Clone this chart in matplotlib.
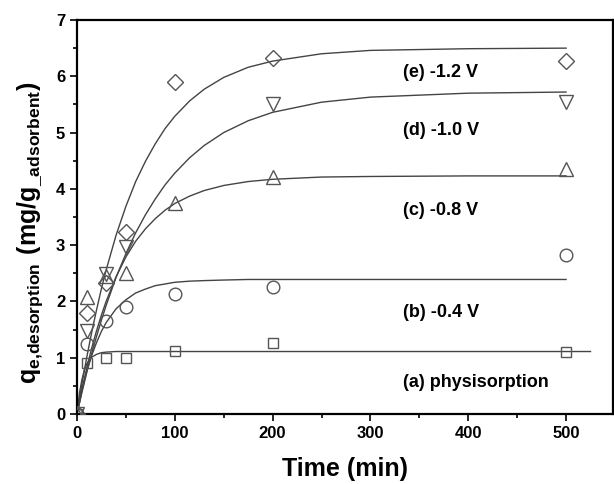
import matplotlib
matplotlib.use("Agg")
import matplotlib.pyplot as plt
from matplotlib.ticker import MultipleLocator

plt.rcParams['font.family'] = ['Liberation Sans', 'DejaVu Sans']
plt.rcParams['font.weight'] = 'bold'
plt.rcParams['mathtext.fontset'] = 'custom'
plt.rcParams['mathtext.rm'] = 'Liberation Sans'
plt.rcParams['mathtext.bf'] = 'Liberation Sans:bold'

# meetpunten (tijd in min, q in mg/g)
t_a = [0, 10, 30, 50, 100, 200, 500]
q_a = [0, 0.90, 0.99, 1.00, 1.12, 1.27, 1.10]
t_b = [0, 10, 30, 50, 100, 200, 500]
q_b = [0, 1.25, 1.65, 1.90, 2.14, 2.25, 2.82]
t_c = [0, 10, 30, 50, 100, 200, 500]
q_c = [0, 2.08, 2.45, 2.51, 3.75, 4.21, 4.36]
t_d = [0, 10, 30, 50, 200, 500]
q_d = [0, 1.47, 2.48, 2.97, 5.50, 5.55]
t_e = [0, 10, 30, 50, 100, 200, 500]
q_e = [0, 1.79, 2.32, 3.24, 5.90, 6.32, 6.27]

# fit-lijnen
fit_t = [0, 5, 10, 15, 20, 25, 30, 40, 50, 60, 70, 80, 90, 100, 115, 130, 150, 175, 200, 250, 300, 400, 500]
fit_b = [0, 0.41, 0.76, 1.04, 1.27, 1.47, 1.63, 1.87, 2.03, 2.15, 2.22, 2.28, 2.31, 2.34, 2.36, 2.37,
         2.38, 2.39, 2.39, 2.39, 2.39, 2.39, 2.39]
fit_c = [0, 0.43, 0.82, 1.17, 1.48, 1.76, 2.01, 2.44, 2.79, 3.07, 3.29, 3.47, 3.62, 3.74, 3.87, 3.97,
         4.06, 4.13, 4.17, 4.21, 4.22, 4.23, 4.23]
fit_d = [0, 0.38, 0.74, 1.07, 1.38, 1.67, 1.94, 2.43, 2.85, 3.22, 3.54, 3.82, 4.07, 4.28, 4.55, 4.77,
         5.00, 5.21, 5.36, 5.54, 5.63, 5.70, 5.72]
fit_e = [0, 0.53, 1.01, 1.45, 1.85, 2.23, 2.57, 3.18, 3.69, 4.13, 4.49, 4.80, 5.07, 5.29, 5.56, 5.77,
         5.98, 6.16, 6.27, 6.40, 6.46, 6.49, 6.50]
fit_t_a = [0, 2.5, 5, 7.5, 10, 12.5, 15, 20, 25, 30, 40, 50, 100, 200, 300, 400, 525]
fit_a = [0, 0.37, 0.61, 0.78, 0.89, 0.96, 1.01, 1.06, 1.09, 1.10, 1.11, 1.11, 1.11, 1.11, 1.11, 1.11, 1.11]

labels = ['(a) physisorption', '(b) -0.4 V', '(c) -0.8 V', '(d) -1.0 V', '(e) -1.2 V']
label_y = [0.56, 1.80, 3.61, 5.04, 6.07]
label_x = 333

fig = plt.figure(figsize=(6.14, 4.84), dpi=100)
ax = fig.add_axes([77/614, 70/484, 536/614, 394/484])

# fit-lijnen
line_kw = dict(color='#444444', lw=1.0, zorder=2)
ax.plot(fit_t_a, fit_a, **line_kw)
ax.plot(fit_t, fit_b, **line_kw)
ax.plot(fit_t, fit_c, **line_kw)
ax.plot(fit_t, fit_d, **line_kw)
ax.plot(fit_t, fit_e, **line_kw)

# open symbolen voor de metingen
mk = dict(ls='none', mfc='none', mec='#555555', mew=1.0, zorder=3)
ax.plot(t_a, q_a, marker='s', ms=7.9, **mk)
ax.plot(t_b, q_b, marker='o', ms=9.1, **mk)
ax.plot(t_c, q_c, marker='^', ms=9.4, **mk)
ax.plot(t_d, q_d, marker='v', ms=9.4, **mk)
ax.plot(t_e, q_e, marker='D', ms=8.1, **mk)

for txt, y in zip(labels, label_y):
    ax.text(label_x, y, txt, fontsize=13, fontweight='bold', ha='left', va='center')

ax.set_xlim(0, 548)
ax.set_ylim(0, 7)
ax.xaxis.set_major_locator(MultipleLocator(100))
ax.xaxis.set_minor_locator(MultipleLocator(50))
ax.yaxis.set_major_locator(MultipleLocator(1))
ax.yaxis.set_minor_locator(MultipleLocator(0.5))
ax.tick_params(which='both', direction='out', top=False, right=False, width=1.2, labelsize=12)
ax.tick_params(which='major', length=5)
ax.tick_params(which='minor', length=3)
for s in ax.spines.values():
    s.set_linewidth(1.6)

ax.set_xlabel('Time (min)', fontsize=18, fontweight='bold', labelpad=12)
ax.set_ylabel(r'$\mathbf{q}_{\mathrm{e{,}desorption}}\ \mathbf{(mg/g}_{\mathrm{\_adsorbent}}\mathbf{)}$',
              fontsize=18, labelpad=8)
ax.yaxis.label.set_y(0.46)

fig.savefig('out.png', dpi=100)
